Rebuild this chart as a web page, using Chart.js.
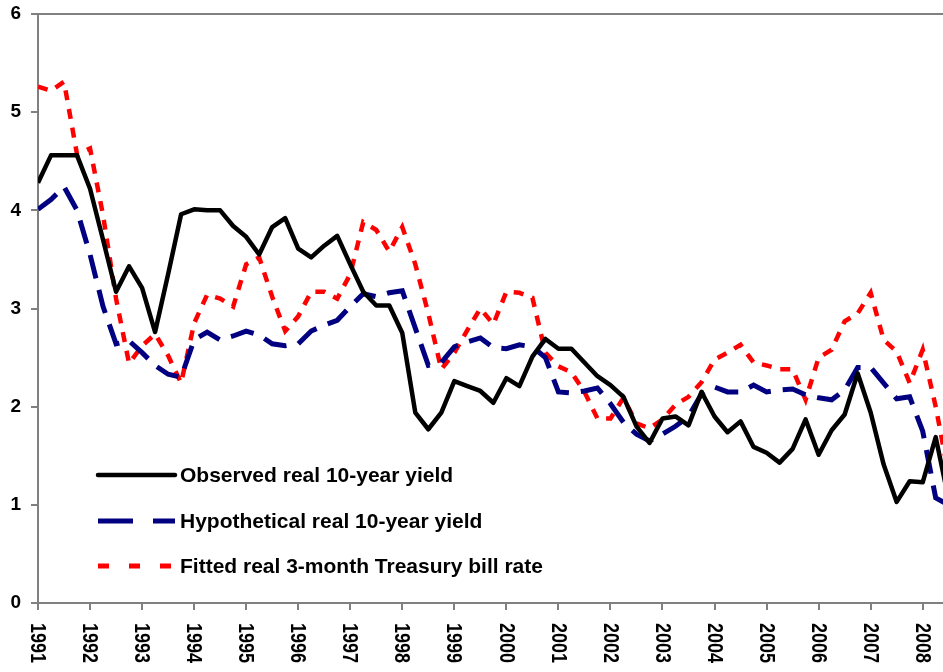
<!DOCTYPE html>
<html>
<head>
<meta charset="utf-8">
<script src="https://cdn.jsdelivr.net/npm/chart.js@4"></script>
<style>
    body { margin: 0; background: #ffffff; overflow: hidden; }
    canvas { display: block; }
</style>
</head>
<body>
<canvas id="yieldChart" width="943" height="672"></canvas>
<script>
// Quarterly data, first point 1991 Q1
const observedYield = [
    4.28, 4.56, 4.56, 4.56, 4.22, 3.70, 3.17, 3.43, 3.21, 2.76,
    3.35, 3.96, 4.01, 4.00, 4.00, 3.84, 3.73, 3.55, 3.83, 3.92,
    3.61, 3.52, 3.64, 3.74, 3.45, 3.17, 3.03, 3.03, 2.75, 1.94,
    1.77, 1.94, 2.26, 2.21, 2.16, 2.04, 2.29, 2.21, 2.51, 2.69,
    2.59, 2.59, 2.45, 2.31, 2.22, 2.10, 1.80, 1.63, 1.88, 1.90,
    1.81, 2.15, 1.90, 1.74, 1.85, 1.59, 1.53, 1.43, 1.57, 1.87,
    1.51, 1.76, 1.92, 2.34, 1.94, 1.41, 1.03, 1.24, 1.23, 1.69,
    1.05
];

const hypotheticalYield = [
    4.01, 4.11, 4.24, 4.00, 3.55, 3.02, 2.64, 2.67, 2.55, 2.42,
    2.33, 2.30, 2.68, 2.76, 2.68, 2.72, 2.77, 2.73, 2.64, 2.62,
    2.64, 2.77, 2.83, 2.88, 3.02, 3.15, 3.12, 3.16, 3.18, 2.80,
    2.42, 2.45, 2.61, 2.66, 2.70, 2.60, 2.59, 2.63, 2.61, 2.50,
    2.15, 2.14, 2.16, 2.19, 2.03, 1.84, 1.72, 1.65, 1.72, 1.80,
    1.90, 2.13, 2.20, 2.15, 2.15, 2.22, 2.15, 2.17, 2.18, 2.12,
    2.09, 2.07, 2.17, 2.40, 2.40, 2.24, 2.08, 2.10, 1.75, 1.07,
    1.00
];

const fittedBillRate = [
    5.26, 5.22, 5.31, 4.57, 4.63, 3.95, 3.10, 2.44, 2.62, 2.74,
    2.52, 2.24, 2.85, 3.14, 3.10, 3.02, 3.45, 3.52, 3.12, 2.77,
    2.92, 3.17, 3.17, 3.10, 3.35, 3.88, 3.80, 3.58, 3.83, 3.45,
    2.95, 2.38, 2.55, 2.78, 3.00, 2.84, 3.17, 3.16, 3.11, 2.55,
    2.41, 2.35, 2.15, 1.88, 1.88, 2.09, 1.83, 1.78, 1.87, 2.02,
    2.10, 2.25, 2.48, 2.55, 2.63, 2.45, 2.42, 2.38, 2.38, 2.07,
    2.50, 2.58, 2.87, 2.95, 3.16, 2.68, 2.56, 2.24, 2.58, 2.00,
    1.30
];

const yearLabels = [
    "1991", "1992", "1993", "1994", "1995", "1996", "1997", "1998", "1999",
    "2000", "2001", "2002", "2003", "2004", "2005", "2006", "2007", "2008"
];

const seriesNames = [
    "Observed real 10-year yield",
    "Hypothetical real 10-year yield",
    "Fitted real 3-month Treasury bill rate"
];

const FONT = "'Liberation Sans', Arial, sans-serif";
const AXIS_GREY = "#808080";

function toPoints(values)
{
    return values.map((v, i) => ({ x: 1991 + i / 4, y: v }));
}

// Legend sits inside the plot, lower left
const insideLegend = {
    id: "insideLegend",
    afterDraw(chart)
    {
        const ctx = chart.ctx;
        const rows = [475, 521, 566];
        const styles = [
            { color: "#000000", width: 4.5, dash: [] },
            { color: "#000080", width: 5, dash: [35, 20] },
            { color: "#ff0000", width: 5, dash: [11, 20] }
        ];

        ctx.save();
        rows.forEach((y, i) =>
        {
            const s = styles[i];
            ctx.beginPath();
            ctx.strokeStyle = s.color;
            ctx.lineWidth = s.width;
            ctx.lineCap = i === 0 ? "round" : "butt";
            ctx.setLineDash(s.dash);
            ctx.moveTo(98, y);
            ctx.lineTo(175, y);
            ctx.stroke();

            ctx.setLineDash([]);
            ctx.fillStyle = "#000000";
            ctx.font = "bold 21px " + FONT;
            ctx.textAlign = "left";
            ctx.textBaseline = "middle";
            ctx.fillText(chart.data.datasets[i].label, 180, y + 1);
        });
        ctx.restore();
    }
};

// Year labels rotated clockwise under the x axis
const yearTicks = {
    id: "yearTicks",
    afterDraw(chart)
    {
        const ctx = chart.ctx;
        const xScale = chart.scales.x;
        const top = chart.chartArea.bottom + 20;

        ctx.save();
        ctx.fillStyle = "#000000";
        ctx.font = "bold 18px " + FONT;
        ctx.textAlign = "left";
        ctx.textBaseline = "middle";
        yearLabels.forEach(label =>
        {
            const x = xScale.getPixelForValue(Number(label));
            ctx.save();
            ctx.translate(x, top);
            ctx.rotate(Math.PI / 2);
            ctx.scale(1, 1.25);
            ctx.fillText(label, 0, 0.5);
            ctx.restore();
        });
        ctx.restore();
    }
};

const chart = new Chart(document.getElementById("yieldChart"), {
    type: "line",
    data: {
        datasets: [
            {
                label: seriesNames[0],
                data: toPoints(observedYield),
                borderColor: "#000000",
                borderWidth: 4.5,
                borderJoinStyle: "round"
            },
            {
                label: seriesNames[1],
                data: toPoints(hypotheticalYield),
                borderColor: "#000080",
                borderWidth: 5,
                borderDash: [24, 12]
            },
            {
                label: seriesNames[2],
                data: toPoints(fittedBillRate),
                borderColor: "#ff0000",
                borderWidth: 4.5,
                borderDash: [10, 9]
            }
        ]
    },
    options: {
        responsive: false,
        animation: false,
        devicePixelRatio: 1,
        layout: { padding: { top: 14, right: 0, bottom: 62, left: 0 } },
        elements: {
            point: { radius: 0 },
            line: { tension: 0, fill: false }
        },
        plugins: {
            legend: { display: false },
            tooltip: { enabled: false }
        },
        scales: {
            x: {
                type: "linear",
                min: 1991,
                max: 2008.39,
                ticks: { display: false, stepSize: 1, includeBounds: false },
                grid: {
                    drawOnChartArea: false,
                    color: AXIS_GREY,
                    lineWidth: 2,
                    tickLength: 7
                },
                border: { color: AXIS_GREY, width: 2 }
            },
            y: {
                min: 0,
                max: 6,
                afterFit: scale =>
                {
                    scale.width = 38;
                    scale.paddingTop = 0;
                    scale.paddingBottom = 0;
                },
                ticks: {
                    stepSize: 1,
                    padding: 10,
                    color: "#000000",
                    font: { family: FONT, size: 19, weight: "bold" }
                },
                grid: {
                    color: c => c.tick && c.tick.value === 6 ? AXIS_GREY : "rgba(0,0,0,0)",
                    tickColor: AXIS_GREY,
                    lineWidth: 2,
                    tickLength: 7
                },
                border: { color: AXIS_GREY, width: 2 }
            }
        }
    },
    plugins: [insideLegend, yearTicks]
});
</script>
</body>
</html>
